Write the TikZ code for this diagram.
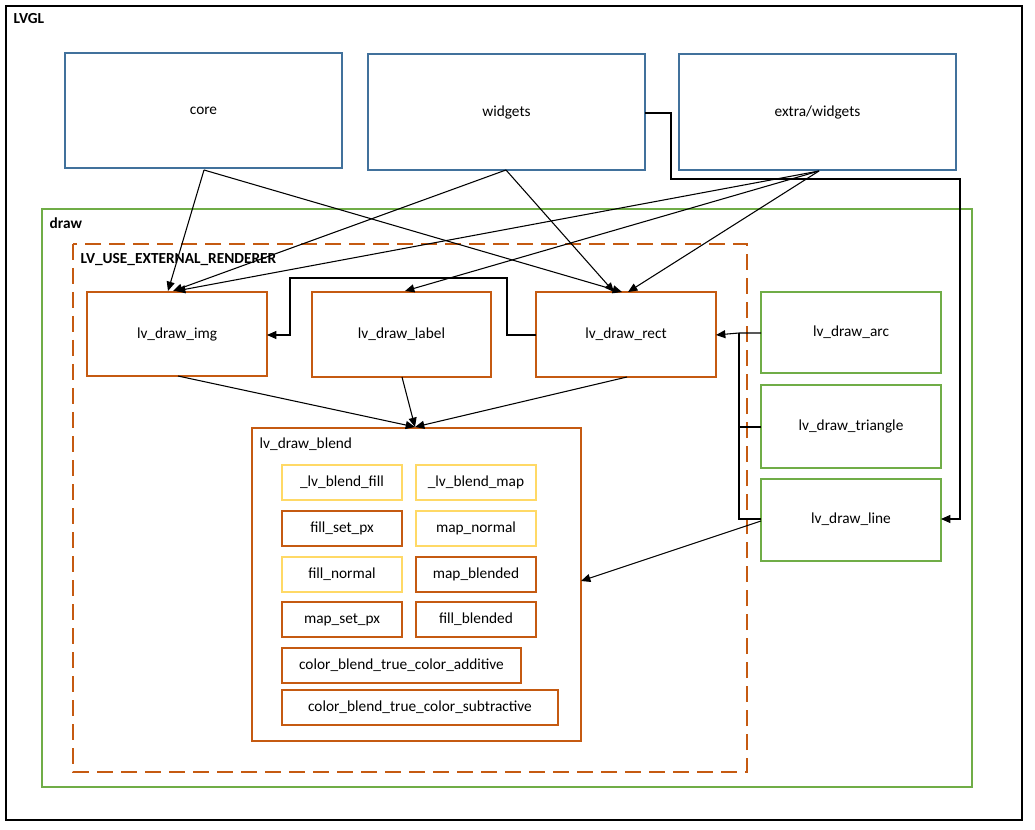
\documentclass[tikz,border=0pt]{standalone}
\usepackage{fontspec}
\setmainfont{Carlito}
\usetikzlibrary{arrows.meta}
\definecolor{bl}{HTML}{41719C}
\definecolor{gr}{HTML}{70AD47}
\definecolor{orng}{HTML}{C55A11}
\definecolor{yl}{HTML}{FFD966}
\begin{document}
\begin{tikzpicture}[x=0.75pt,y=-0.75pt,font=\fontsize{11.5}{13}\selectfont,
  box/.style={draw,line width=1.2pt,inner sep=0pt},
  ar/.style={-{Triangle[length=7pt,width=6pt]},line width=0.8pt},
  ln/.style={line width=0.8pt}]
\useasboundingbox (0,0) rectangle (1035,830);
\draw[line width=1.5pt] (6,6) rectangle (1022,820);
\node[anchor=north west,font=\fontsize{11.5}{13}\selectfont\bfseries] at (9,9) {LVGL};
\draw[gr,line width=1.4pt] (42,209) rectangle (972,787);
\node[anchor=north west,font=\fontsize{11.5}{13}\selectfont\bfseries] (dl) at (45,213) {draw};
\draw[orng,line width=1.6pt,dash pattern=on 12pt off 6pt] (73,244) rectangle (747,772);
\node[anchor=north west,font=\fontsize{11.5}{13}\selectfont\bfseries] (el) at (76,249) {LV\_USE\_EXTERNAL\_RENDERER};
% top boxes
\draw[bl,box] (65,53) rectangle (342,168); \node (core) at (203.5,110.5) {core};
\coordinate (coreb) at (204,170);
\draw[bl,box] (368,54) rectangle (645,170); \node (wid) at (506.5,112) {widgets};
\coordinate (widb) at (506,170); \coordinate (widr) at (645,113);
\draw[bl,box] (679,54) rectangle (956,170); \node (ext) at (817.5,112) {extra/widgets};
\coordinate (extb) at (819,171);
% middle
\draw[orng,box] (87,292) rectangle (267,376); \node (img) at (177,334) {lv\_draw\_img};
\draw[orng,box] (312,292) rectangle (491,377); \node (lab) at (401.5,334) {lv\_draw\_label};
\draw[orng,box] (536,292) rectangle (716,377); \node (rect) at (626,334) {lv\_draw\_rect};
\draw[gr,box] (761,292) rectangle (941,373); \node (arc) at (851,332) {lv\_draw\_arc};
\draw[gr,box] (761,385) rectangle (941,468); \node (tri) at (851,426) {lv\_draw\_triangle};
\draw[gr,box] (761,479) rectangle (941,561); \node (line) at (851,519) {lv\_draw\_line};
% blend
\draw[orng,box] (252,428) rectangle (581,741);
\node[anchor=north west] (bl) at (255,433) {lv\_draw\_blend};
\foreach \x/\y/\w/\c/\t in {282/465/120/yl/\_lv\_blend\_fill, 416/465/120/yl/\_lv\_blend\_map,
  282/511/120/orng/fill\_set\_px, 416/511/120/yl/map\_normal,
  282/557/120/yl/fill\_normal, 416/557/120/orng/map\_blended,
  282/602/120/orng/map\_set\_px, 416/602/120/orng/fill\_blended,
  282/648/239/orng/color\_blend\_true\_color\_additive, 282/690/276/orng/color\_blend\_true\_color\_subtractive}
  {\draw[\c,box] (\x,\y) rectangle ++(\w,35); \node at (\x+\w/2,\y+17.5) {\t};}
% connectors
\draw[ar] (coreb) -- (168,291);
\draw[ar] (coreb) -- (622,292);
\draw[ar] (widb) -- (173,291);
\draw[ar] (widb) -- (614,292);
\draw[ar] (extb) -- (176,291);
\draw[ar] (extb) -- (405,291);
\draw[ar] (extb) -- (628,292);
\draw[ar] (widr) -- (671,113) -- (671,179) -- (960,179) -- (960,519) -- (941,519);
\draw[ar] (536,335) -- (507,335) -- (507,278) -- (290,278) -- (290,335) -- (267,335);
\draw[ar] (761,333) -- (739,333) -- (716,335);
\draw[ln] (761,427) -- (739,427);
\draw[ln] (761,519) -- (739,519) -- (739,333);
\draw[ar] (761,521) -- (581,581);
\draw[ar] (178,376) -- (415,427);
\draw[ar] (402,377) -- (415,427);
\draw[ar] (627,377) -- (415,427);
\end{tikzpicture}
\end{document}
